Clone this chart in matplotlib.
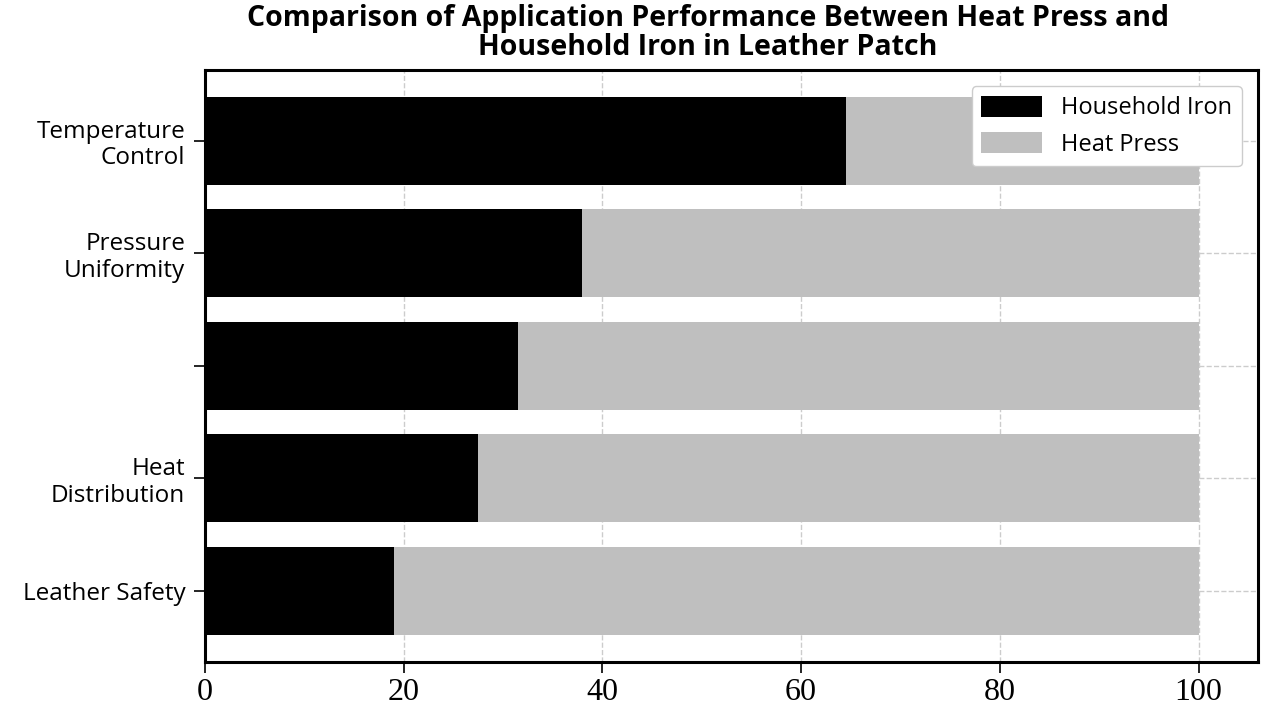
import matplotlib.pyplot as plt

# datos
categorias = ["Temperature\nControl", "Pressure\nUniformity", "", "Heat\nDistribution", "Leather Safety"]
household_iron = [64.5, 38, 31.5, 27.5, 19]
heat_press = [100 - v for v in household_iron]
xticks = [0, 20, 40, 60, 80, 100]

fig = plt.figure(figsize=(12.8, 7.2), dpi=100)
ax = fig.add_axes([0.16, 0.081, 0.823, 0.822])

y = list(range(len(categorias)))
ax.barh(y, household_iron, height=0.78, color="black", label="Household Iron", zorder=2)
ax.barh(y, heat_press, left=household_iron, height=0.78, color="#bfbfbf", label="Heat Press", zorder=2)

ax.set_yticks(y)
ax.set_yticklabels(categorias, fontsize=17.5, family="Open Sans", linespacing=1.15)
ax.invert_yaxis()
ax.set_xlim(0, 106)
ax.set_xticks(xticks)
ax.set_xticklabels([str(t) for t in xticks], fontsize=23, family="Liberation Serif")
ax.tick_params(axis="both", length=8, width=1.2)
ax.tick_params(axis="y", pad=6)

ax.grid(axis="both", linestyle="--", color="#cccccc", linewidth=1, zorder=0)
for s in ax.spines.values():
    s.set_linewidth(2.2)

ax.legend(loc="upper right", prop={"family": "Open Sans", "size": 17},
          handlelength=2.6, handleheight=1.0, borderaxespad=0.7, framealpha=1)

fig.suptitle("Comparison of Application Performance Between Heat Press and\nHousehold Iron in Leather Patch",
             fontsize=20.5, fontweight="bold", family="Open Sans",
             x=0.553, y=0.995, linespacing=1.0)

fig.savefig("out.png", dpi=100)
